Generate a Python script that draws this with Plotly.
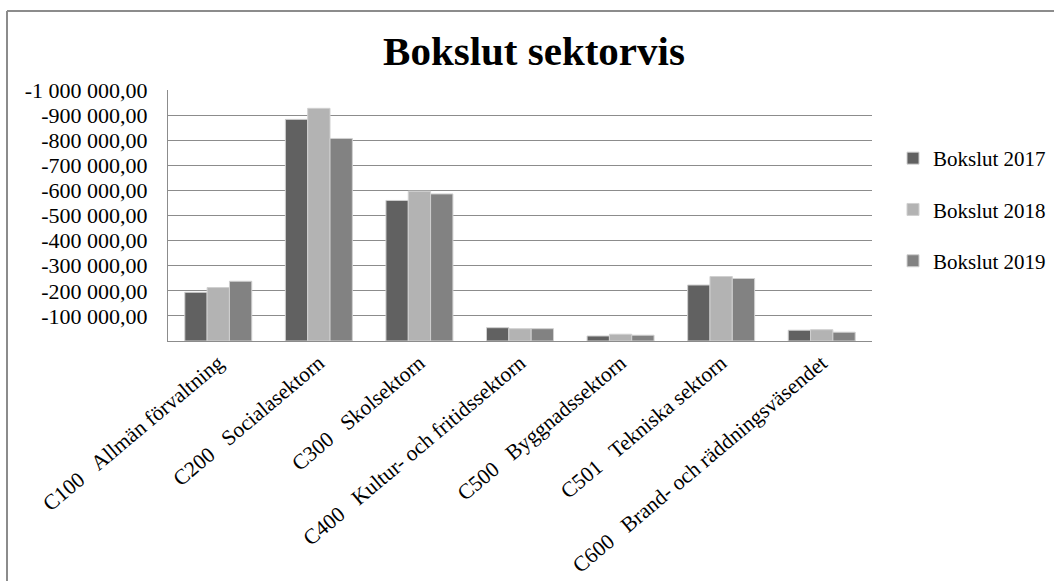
import plotly.graph_objects as go

categories = [
    "C100\u00a0\u00a0\u00a0Allmän förvaltning",
    "C200\u00a0\u00a0\u00a0Socialasektorn",
    "C300\u00a0\u00a0\u00a0Skolsektorn",
    "C400\u00a0\u00a0\u00a0Kultur- och fritidssektorn",
    "C500\u00a0\u00a0\u00a0Byggnadssektorn",
    "C501\u00a0\u00a0\u00a0Tekniska sektorn",
    "C600\u00a0\u00a0\u00a0Brand- och räddningsväsendet",
]
bokslut_2017 = [-194000, -883000, -560000, -53000, -20000, -223000, -43000]
bokslut_2018 = [-213000, -927000, -597000, -49000, -27000, -257000, -45000]
bokslut_2019 = [-238000, -807000, -586000, -49000, -23000, -249000, -35000]
series_names = ["Bokslut 2017", "Bokslut 2018", "Bokslut 2019"]
series_colors = ["#616161", "#b3b3b3", "#828282"]

y_tickvals = [-100000, -200000, -300000, -400000, -500000, -600000, -700000,
              -800000, -900000, -1000000]
y_ticktext = ["-100 000,00", "-200 000,00", "-300 000,00", "-400 000,00",
              "-500 000,00", "-600 000,00", "-700 000,00", "-800 000,00",
              "-900 000,00", "-1 000 000,00"]

FONT = "Liberation Serif, Times New Roman, serif"

fig = go.Figure()
for name, vals, col in zip(series_names,
                           [bokslut_2017, bokslut_2018, bokslut_2019],
                           series_colors):
    fig.add_trace(go.Bar(
        x=categories, y=vals, name=name, legendgroup=name,
        marker=dict(color=col, line=dict(color="#d0d0d0", width=1)),
    ))

W, H = 1054, 581
L, R, T, B = 168, 182, 90, 240
pw = W - L - R
ph = H - T - B

fig.update_layout(
    width=W, height=H,
    margin=dict(l=L, r=R, t=T, b=B, autoexpand=False),
    paper_bgcolor="white", plot_bgcolor="white",
    barmode="group", bargap=0.334, bargroupgap=0,
    font=dict(family=FONT, color="black", size=20),
    title=dict(text="<b>Bokslut sektorvis</b>", x=534 / W, xanchor="center",
               y=1 - 51 / H, yanchor="middle",
               font=dict(family=FONT, size=41, color="black")),
    legend=dict(x=(893 - L) / pw, xanchor="left", y=(341 - 138) / ph, yanchor="top",
                font=dict(family=FONT, size=21, color="black"),
                tracegroupgap=21, bgcolor="rgba(0,0,0,0)"),
    showlegend=True,
)
fig.update_xaxes(
    tickangle=-40, showgrid=False, showline=True, linecolor="#8c8c8c", linewidth=1,
    tickfont=dict(family=FONT, size=21.5, color="black"), ticks="",
)
fig.update_yaxes(
    range=[0, -1000000], tickvals=y_tickvals, ticktext=y_ticktext,
    showgrid=True, gridcolor="#8c8c8c", gridwidth=1, zeroline=False,
    showline=True, linecolor="#8c8c8c", linewidth=1,
    tickfont=dict(family=FONT, size=22, color="black"), ticks="",
    ticklabelstandoff=15,
)
# outer chart border (top and left edges visible in reference)
fig.add_shape(type="line", xref="paper", yref="paper",
              x0=(7 - L) / pw, x1=(W + 5 - L) / pw,
              y0=(H - B - 11) / ph, y1=(H - B - 11) / ph,
              line=dict(color="#8c8c8c", width=2))
fig.add_shape(type="line", xref="paper", yref="paper",
              x0=(7 - L) / pw, x1=(7 - L) / pw,
              y0=(H - B - 11) / ph, y1=(H - B - H - 5) / ph,
              line=dict(color="#8c8c8c", width=2))

fig.write_html("out.html", config={"displayModeBar": False},
               post_script="document.body.style.margin='0';document.body.style.overflow='hidden';")
